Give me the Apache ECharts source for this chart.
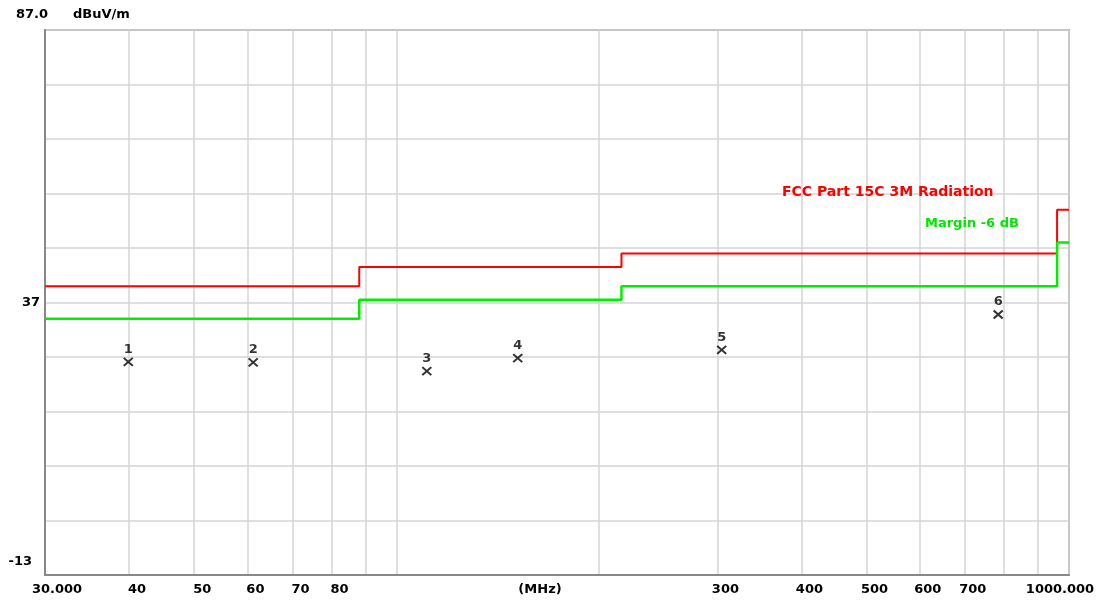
<!DOCTYPE html>
<html>
<head>
<meta charset="utf-8">
<script src="https://cdn.jsdelivr.net/npm/echarts@6/dist/echarts.min.js"></script>
<style>
  html, body { margin: 0; padding: 0; background: #fff; }
  #chart { width: 1105px; height: 603px; }
</style>
</head>
<body>
<div id="chart"></div>
<script>
// limit line (FCC Part 15C 3M) and -6 dB margin, stepped
var limitFreq = [30, 88, 88, 216, 216, 960, 960, 1000]
var limitLevel = [40, 40, 43.5, 43.5, 46, 46, 54, 54]
var marginLevel = [34, 34, 37.5, 37.5, 40, 40, 48, 48]

// measured peaks (MHz, dBuV/m)
var peakNo = ['1', '2', '3', '4', '5', '6']
var peakFreq = [39.9, 61.2, 110.9, 151.4, 304.4, 784.6]
var peakLevel = [26.1, 26.0, 24.4, 26.8, 28.3, 34.8]

// axis ticks
var xGridValues = [30, 40, 50, 60, 70, 80, 90, 100, 200, 300, 400, 500, 600, 700, 800, 900, 1000]
var xLabelValues = [30, 40, 50, 60, 70, 80, 300, 400, 500, 600, 700, 1000]
var yGridValues = [-13, -3, 7, 17, 27, 37, 47, 57, 67, 77, 87]
var yLabelValues = [-13, 37, 87]

var FONT = 'DejaVu Sans'
var labelFont = { color: '#000', fontWeight: 'bold', fontSize: 13, fontFamily: FONT }

function pairs(xs, ys) {
  return xs.map(function (x, i) { return [x, ys[i]] })
}

function richStyle(padding) {
  return Object.assign({ padding: padding }, labelFont)
}

var chart = echarts.init(document.getElementById('chart'))

chart.setOption({
  animation: false,
  backgroundColor: '#fff',
  grid: {
    left: 45,
    right: 36,
    top: 30,
    bottom: 28,
    outerBoundsMode: 'none',
    containLabel: false,
    show: true,
    borderColor: '#a0a0a0',
    borderWidth: 2
  },
  textStyle: { fontFamily: FONT },
  xAxis: {
    type: 'log',
    logBase: 10,
    min: 30,
    max: 1000,
    name: '(MHz)',
    nameLocation: 'middle',
    nameGap: 8,
    nameMoveOverlap: false,
    nameTextStyle: Object.assign({ padding: [0, 34, 0, 0] }, labelFont),
    axisLine: { show: true, onZero: false, lineStyle: { color: '#888', width: 2 } },
    axisTick: { show: false, customValues: xGridValues },
    splitLine: { show: true, lineStyle: { color: '#d4d4d4', width: 1.5 } },
    minorSplitLine: { show: false },
    axisLabel: {
      customValues: xLabelValues,
      margin: 8,
      formatter: function (v) {
        if (v === 30) return '{first|30.000}'
        if (v === 1000) return '{last|1000.000}'
        return '{mid|' + v + '}'
      },
      rich: {
        first: richStyle([0, 0, 0, 24]),
        mid: richStyle([0, 0, 0, 16]),
        last: richStyle([0, 18, 0, 0])
      }
    }
  },
  yAxis: {
    type: 'value',
    min: -13,
    max: 87,
    name: 'dBuV/m',
    nameLocation: 'end',
    nameGap: 9,
    nameMoveOverlap: false,
    nameTextStyle: Object.assign({ align: 'left', padding: [0, 0, 0, 28] }, labelFont),
    axisLine: { show: true, onZero: false, lineStyle: { color: '#888', width: 2 } },
    axisTick: { show: false, customValues: yGridValues },
    splitLine: { show: true, lineStyle: { color: '#d4d4d4', width: 1.5 } },
    axisLabel: {
      customValues: yLabelValues,
      margin: 5,
      color: '#000',
      fontWeight: 'bold',
      fontSize: 13,
      fontFamily: FONT,
      formatter: function (v) {
        if (v === 87) return '{top|87.0}'
        if (v === -13) return '{bot|-13}'
        return String(v)
      },
      rich: {
        top: richStyle([0, -8, 30, 0]),
        bot: richStyle([0, 8, 26, 0])
      }
    }
  },
  graphic: [
    {
      type: 'text',
      left: 782,
      top: 185,
      z: 100,
      style: { text: 'FCC Part 15C 3M Radiation', fill: '#ff0000', font: 'bold 14px "DejaVu Sans"' }
    },
    {
      type: 'text',
      left: 925,
      top: 217,
      z: 100,
      style: { text: 'Margin -6 dB', fill: '#00e600', font: 'bold 13px "DejaVu Sans"' }
    }
  ],
  series: [
    {
      name: 'FCC Part 15C 3M Radiation',
      type: 'line',
      data: pairs(limitFreq, limitLevel),
      symbol: 'none',
      lineStyle: { color: '#ff0000', width: 2 },
      z: 3
    },
    {
      name: 'Margin -6 dB',
      type: 'line',
      data: pairs(limitFreq, marginLevel),
      symbol: 'none',
      lineStyle: { color: '#00ee00', width: 2.5 },
      z: 3
    },
    {
      name: 'Peaks',
      type: 'scatter',
      data: pairs(peakFreq, peakLevel),
      symbol: 'path://M0,0L10,10M10,0L0,10',
      symbolSize: [9, 8],
      itemStyle: { color: 'transparent', borderColor: '#000', borderWidth: 2 },
      label: {
        show: true,
        position: 'top',
        distance: 1,
        color: '#000',
        fontWeight: 'bold',
        fontSize: 13,
        fontFamily: FONT,
        formatter: function (p) { return peakNo[p.dataIndex] }
      },
      z: 4
    }
  ]
})
</script>
</body>
</html>
